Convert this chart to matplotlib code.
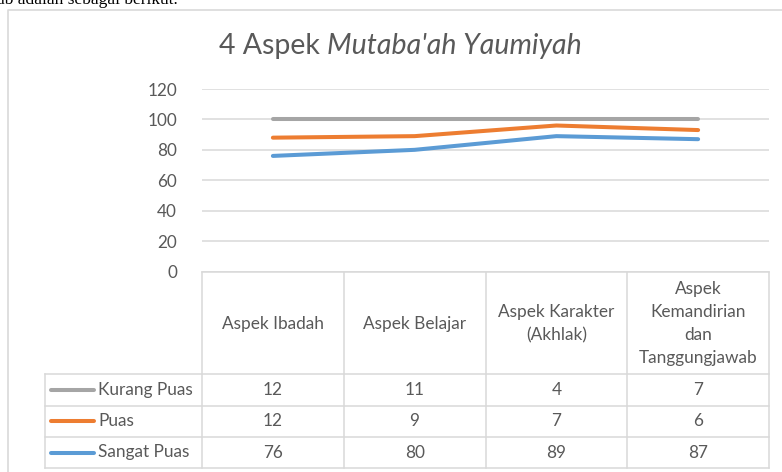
import numpy as np
import matplotlib
matplotlib.use("Agg")
from matplotlib import pyplot as plt

categories = ["Aspek Ibadah", "Aspek Belajar", "Aspek Karakter\n(Akhlak)",
              "Aspek\nKemandirian\ndan\nTanggungjawab"]
series_names = ["Kurang Puas", "Puas", "Sangat Puas"]
kurang_puas = [12, 11, 4, 7]
puas = [12, 9, 7, 6]
sangat_puas = [76, 80, 89, 87]
yticks = [0, 20, 40, 60, 80, 100, 120]

colors = {"Kurang Puas": "#a5a5a5", "Puas": "#ed7d31", "Sangat Puas": "#5b9bd5"}
txt = "#595959"
grid = "#d9d9d9"
plt.rcParams["font.family"] = ["Lato", "DejaVu Sans"]

W, H = 782, 472
fig = plt.figure(figsize=(W / 100, H / 100), dpi=100)

# pixel helper for axes placement
def box(x0, y0, x1, y1):
    return [x0 / W, 1 - y1 / H, (x1 - x0) / W, (y1 - y0) / H]

# overlay in pixel coords for frame, table and texts
ov = fig.add_axes([0, 0, 1, 1])
ov.set_xlim(0, W)
ov.set_ylim(H, 0)
ov.axis("off")

# stacked line chart: cumulative values
stack = np.cumsum([sangat_puas, puas, kurang_puas], axis=0)
ax = fig.add_axes(box(202, 89, 769, 271.5))
x = np.arange(len(categories))
for name, vals in zip(["Sangat Puas", "Puas", "Kurang Puas"], stack):
    ax.plot(x, vals, color=colors[name], lw=2.9, solid_capstyle="round", zorder=3)
ax.set_xlim(-0.5, len(categories) - 0.5)
ax.set_ylim(0, 120)
ax.set_yticks(yticks)
ax.set_xticks([])
ax.grid(axis="y", color=grid, lw=1.1)
ax.set_axisbelow(True)
for s in ["top", "right", "left"]:
    ax.spines[s].set_visible(False)
ax.spines["bottom"].set_color(grid)
ax.spines["bottom"].set_linewidth(1.1)
ax.tick_params(axis="y", length=0, pad=18, labelsize=12.3, labelcolor=txt)

# outer chart frame
ov.plot([7.5, 7.5, W + 5], [H + 5, 9.5, 9.5], color=grid, lw=1.2, clip_on=False)

# above-chart text fragment (cropped like the source)
ov.text(-3, 4.5, "ab adalah sebagai berikut.", family="Liberation Serif",
        fontsize=12.5, color="black", va="baseline", ha="left", clip_on=True)

# title, centred as a whole
t1 = ov.text(400, 46, "4 Aspek ", fontsize=20.5, color=txt, ha="right", va="center")
t2 = ov.text(400, 46, "Mutaba'ah Yaumiyah", fontsize=20.5, color=txt, ha="left",
             va="center", style="italic")
fig.canvas.draw()
r = fig.canvas.get_renderer()
w1 = t1.get_window_extent(r).width
w2 = t2.get_window_extent(r).width
shift = (w1 - w2) / 2
t1.set_x(400 + shift)
t2.set_x(400 + shift)

# data table
col_edges = np.linspace(202, 769, len(categories) + 1)
col_mid = (col_edges[:-1] + col_edges[1:]) / 2
leg_left = 44.5
head_top, head_bot = 271.5, 374
row_edges = [374, 405.5, 437, 468]
fs = 12.4

for xe in col_edges:
    ov.plot([xe, xe], [head_top, row_edges[-1]], color=grid, lw=1.1)
ov.plot([leg_left, leg_left], [row_edges[0], row_edges[-1]], color=grid, lw=1.1)
for ye in row_edges:
    ov.plot([leg_left, col_edges[-1]], [ye, ye], color=grid, lw=1.1)

for cx, label in zip(col_mid, categories):
    ov.text(cx, (head_top + head_bot) / 2 + 1, label, fontsize=fs, color=txt,
            ha="center", va="center", linespacing=1.55)

rows = [("Kurang Puas", kurang_puas), ("Puas", puas), ("Sangat Puas", sangat_puas)]
for i, (name, vals) in enumerate(rows):
    cy = (row_edges[i] + row_edges[i + 1]) / 2
    ov.plot([51, 94], [cy, cy], color=colors[name], lw=2.9, solid_capstyle="round")
    ov.text(98, cy, name, fontsize=fs, color=txt, ha="left", va="center")
    for cx, v in zip(col_mid, vals):
        ov.text(cx, cy, str(v), fontsize=fs, color=txt, ha="center", va="center")

fig.savefig("out.png", dpi=100)
